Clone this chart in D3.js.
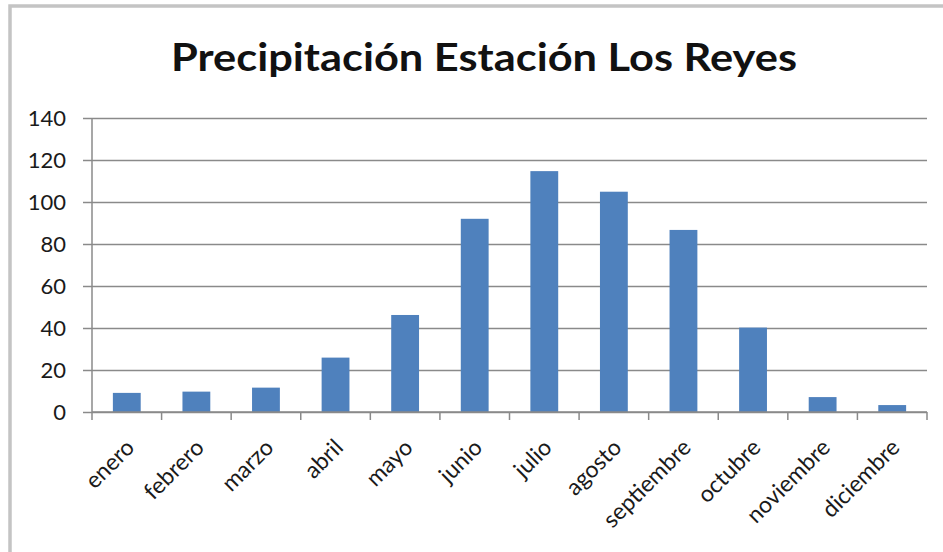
<!DOCTYPE html>
<html>
<head>
<meta charset="utf-8">
<script src="https://cdn.jsdelivr.net/npm/d3@7"></script>
<style>
  body { margin: 0; background: #fff; }
  text { font-family: Lato, "Open Sans", sans-serif; }
</style>
</head>
<body>
<div id="chart"></div>
<script>
// *** data
var months = ["enero", "febrero", "marzo", "abril", "mayo", "junio",
              "julio", "agosto", "septiembre", "octubre", "noviembre", "diciembre"];
var rain = [9.1, 9.7, 11.6, 25.9, 46.2, 92.0, 114.7, 104.9, 86.7, 40.2, 7.1, 3.3];
var yTicks = [0, 20, 40, 60, 80, 100, 120, 140];
var title = "Precipitación Estación Los Reyes";

var W = 943, H = 552;
var margin = { top: 118, right: 16, bottom: 140, left: 92 },
    width = W - margin.left - margin.right,
    height = H - margin.top - margin.bottom;

var svg = d3.select("#chart").append("svg")
    .attr("width", W)
    .attr("height", H);

// outer frame (cut off on right / bottom like the screenshot)
svg.append("rect")
    .attr("x", 10).attr("y", 6)
    .attr("width", W + 20).attr("height", H + 20)
    .attr("fill", "#fff")
    .attr("stroke", "#c4c4c4")
    .attr("stroke-width", 3.5);

svg.append("text")
    .attr("x", 484)
    .attr("y", 71)
    .attr("text-anchor", "middle")
    .attr("font-weight", "bold")
    .attr("font-size", 39)
    .attr("fill", "#111")
    .attr("textLength", 626)
    .attr("lengthAdjust", "spacingAndGlyphs")
    .text(title);

var g = svg.append("g")
    .attr("transform", "translate(" + margin.left + "," + margin.top + ")");

var x = d3.scaleBand()
    .domain(months)
    .range([0, width])
    .paddingInner(0.6)
    .paddingOuter(0.3);

var y = d3.scaleLinear()
    .domain([0, 140])
    .range([height, 0]);

// gridlines + y axis ticks
var yAxis = d3.axisLeft(y)
    .tickValues(yTicks)
    .tickSize(-width)
    .tickPadding(26);

var yg = g.append("g").attr("class", "y axis").call(yAxis);
yg.select(".domain").remove();
yg.selectAll(".tick line")
    .attr("x1", -9)
    .attr("stroke", "#8a8a8a")
    .attr("stroke-width", 1.5);
yg.selectAll(".tick text")
    .attr("font-size", 22)
    .attr("fill", "#1a1a1a")
    .attr("font-family", "Lato, sans-serif");

// bars
g.selectAll(".bar")
    .data(rain)
    .enter().append("rect")
    .attr("class", "bar")
    .attr("x", function(d, i) { return x(months[i]); })
    .attr("y", function(d) { return y(d); })
    .attr("width", x.bandwidth())
    .attr("height", function(d) { return height - y(d); })
    .attr("fill", "#4f81bd");

// y axis line
g.append("line")
    .attr("x1", 0).attr("x2", 0)
    .attr("y1", 0).attr("y2", height)
    .attr("stroke", "#8a8a8a")
    .attr("stroke-width", 1.5);

// x axis line with ticks at category boundaries
g.append("line")
    .attr("x1", 0).attr("x2", width)
    .attr("y1", height).attr("y2", height)
    .attr("stroke", "#8a8a8a")
    .attr("stroke-width", 1.5);

g.selectAll(".xtick")
    .data(d3.range(months.length + 1))
    .enter().append("line")
    .attr("class", "xtick")
    .attr("x1", function(i) { return i * width / months.length; })
    .attr("x2", function(i) { return i * width / months.length; })
    .attr("y1", height)
    .attr("y2", height + 8)
    .attr("stroke", "#8a8a8a")
    .attr("stroke-width", 1.5);

// rotated month labels
g.selectAll(".xlab")
    .data(months)
    .enter().append("text")
    .attr("class", "xlab")
    .attr("transform", function(d) {
        return "translate(" + (x(d) + x.bandwidth() / 2 + 9) + "," + (height + 37) + ") rotate(-45)";
    })
    .attr("text-anchor", "end")
    .attr("font-size", 23)
    .attr("fill", "#1a1a1a")
    .text(function(d) { return d; });
</script>
</body>
</html>
